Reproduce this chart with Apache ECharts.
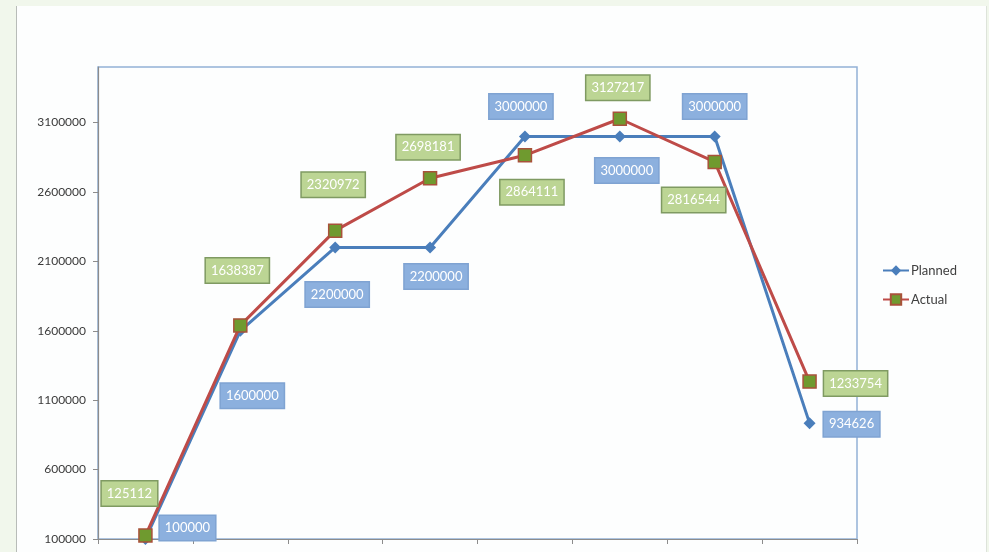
<!DOCTYPE html>
<html>
<head>
<meta charset="utf-8">
<script src="https://cdn.jsdelivr.net/npm/echarts@6/dist/echarts.min.js"></script>
<style>
  html, body { margin: 0; padding: 0; background: #f1f7ec; }
  #frame { position: absolute; left: 16px; top: 6px; width: 969px; height: 546px;
           background: #fdfefe; border-left: 1px solid #b8bcb8; border-right: 1px solid #dde3da; }
  #chart { position: absolute; left: 0; top: 0; width: 989px; height: 552px; }
</style>
</head>
<body>
<div id="frame"></div>
<div id="chart"></div>
<script>
// values
var categories = ['1', '2', '3', '4', '5', '6', '7', '8'];
var planned = [100000, 1600000, 2200000, 2200000, 3000000, 3000000, 3000000, 934626];
var actual = [125112, 1638387, 2320972, 2698181, 2864111, 3127217, 2816544, 1233754];

// where each data label sits relative to its point
var plannedOffsets = [[42, -11], [12, 65], [2, 47], [6, 29], [-4, -30], [7, 34], [0, -30], [42, 1]];
var actualOffsets = [[-16, -42], [-3, -55], [-2, -46], [-2, -31], [7, 37], [-2, -31], [-21, 38], [46, 2]];

function withLabels(values, offsets, bg, border) {
    return values.map(function (v, i) {
        return {
            value: v,
            label: {
                show: true,
                position: 'inside',
                offset: offsets[i],
                color: '#ffffff',
                fontFamily: 'Lato, sans-serif',
                fontSize: 13,
                backgroundColor: bg,
                borderColor: border,
                borderWidth: 1.5,
                padding: [6, 5, 5, 5]
            }
        };
    });
}

var chart = echarts.init(document.getElementById('chart'));
var option = {
    backgroundColor: 'transparent',
    animation: false,
    grid: {
        left: 98, right: 132, top: 67, bottom: 13,
        show: true, borderColor: '#93b1d6', borderWidth: 1.5
    },
    legend: {
        orient: 'vertical',
        left: 877,
        top: 259,
        itemGap: 16,
        itemWidth: 26,
        itemHeight: 13,
        textStyle: { color: '#404040', fontSize: 13, fontFamily: 'Lato, sans-serif', padding: [0, 0, 0, -3] },
        data: ['Planned', 'Actual']
    },
    xAxis: {
        type: 'category',
        data: categories,
        boundaryGap: true,
        axisLine: { lineStyle: { color: '#8c8c8c', width: 1.2 } },
        axisTick: { show: true, length: 5, lineStyle: { color: '#8c8c8c' } },
        axisLabel: { show: false }
    },
    yAxis: {
        type: 'value',
        min: 100000,
        max: 3500000,
        interval: 500000,
        axisLine: { show: true, lineStyle: { color: '#8c8c8c', width: 1.2 } },
        axisTick: { show: true, length: 5, lineStyle: { color: '#8c8c8c' } },
        splitLine: { show: false },
        axisLabel: {
            showMaxLabel: false,
            margin: 12,
            color: '#3a3a3a',
            fontSize: 12,
            fontFamily: 'Lato, sans-serif',
            formatter: function (v) { return String(v); }
        }
    },
    series: [
        {
            name: 'Planned',
            type: 'line',
            data: withLabels(planned, plannedOffsets, '#8cb0de', '#7fa3d2'),
            symbol: 'diamond',
            symbolSize: 12,
            lineStyle: { color: '#4a7ebb', width: 3 },
            itemStyle: { color: '#4a7ebb' },
            z: 2
        },
        {
            name: 'Actual',
            type: 'line',
            data: withLabels(actual, actualOffsets, '#bcd594', '#7f9a62'),
            symbol: 'rect',
            symbolSize: 13,
            lineStyle: { color: '#be4b48', width: 3 },
            itemStyle: { color: '#6f9a2f', borderColor: '#a8523a', borderWidth: 1.5 },
            z: 3
        }
    ]
};
chart.setOption(option);
</script>
</body>
</html>
